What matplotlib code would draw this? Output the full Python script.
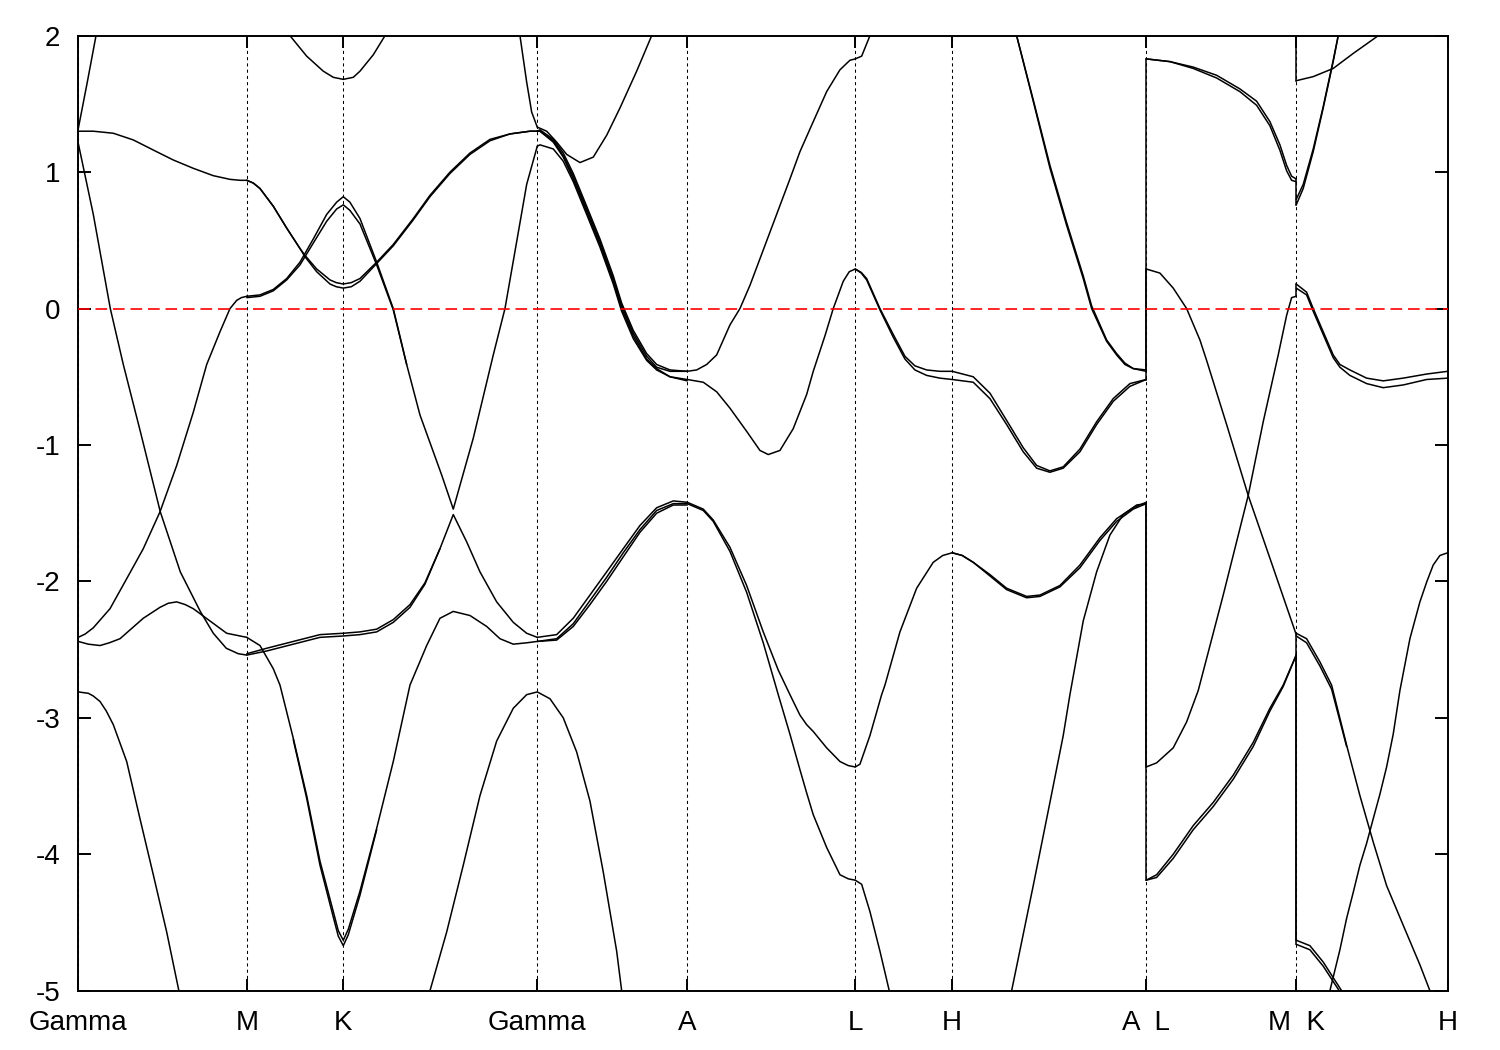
import matplotlib
matplotlib.use("Agg")
import matplotlib.pyplot as plt

plt.rcParams['font.family'] = ['Liberation Sans', 'DejaVu Sans']
plt.rcParams['axes.unicode_minus'] = False

# ---------------- k-path (arbitrary path units) ----------------
kpoints = [0, 168.5, 265, 459, 609, 777, 874, 1068, 1218, 1369.5]
klabels = ["Gamma", "M", "K", "Gamma", "A", "L", "H", "A  L", "M  K", "H"]
yticks = [-5, -4, -3, -2, -1, 0, 1, 2]

# ---------------- bands: (k, E) ----------------
# Gamma -> M
b_gm_up = ([0, 9, 17.7, 20], [1.32, 1.66, 2.0, 2.09])
b_gm_flat = ([0, 15, 35, 55, 75, 95, 115, 135, 151.7, 162, 168.5],
             [1.30, 1.30, 1.285, 1.236, 1.162, 1.089, 1.028, 0.974, 0.947, 0.94, 0.94])
b_gm_down = ([0, 15, 32, 45, 62, 82, 102, 122, 135, 148, 160, 168.5],
             [1.21, 0.69, 0.0, -0.41, -0.90, -1.49, -1.93, -2.22, -2.38, -2.49, -2.53, -2.54])
b_gm_bump = ([0, 10, 21.7, 31, 41.7, 65, 81.7, 90, 98.4, 107, 115, 131.7, 148.4, 168.5],
             [-2.44, -2.46, -2.47, -2.45, -2.42, -2.27, -2.19, -2.16, -2.15, -2.17, -2.20, -2.29, -2.38, -2.41])
b_gm_rise = ([0, 7, 15, 31.7, 48.4, 65, 81.7, 98.4, 115, 128.4, 141.7, 151.7, 158.4, 163, 168.5],
             [-2.41, -2.385, -2.34, -2.20, -1.98, -1.76, -1.49, -1.15, -0.76, -0.41, -0.17, 0.0, 0.06, 0.08, 0.09])
b_gm_deep = ([0, 10, 15, 21.7, 28, 35, 48.4, 61.7, 75, 88.4, 100, 101.7],
             [-2.81, -2.82, -2.84, -2.88, -2.95, -3.05, -3.32, -3.74, -4.15, -4.57, -4.98, -5.04])

# M -> K -> Gamma
b_mk_top = ([208, 211.7, 228.4, 245, 255, 265, 275, 281.7, 295, 306.7, 309],
            [2.03, 2.0, 1.85, 1.74, 1.695, 1.68, 1.695, 1.74, 1.86, 2.0, 2.03])
b_u1a = ([168.5, 181.7, 195, 208.4, 221.7, 235, 248.4, 258.4, 265, 271.6,
          281.7, 298.4, 315, 328.4, 341.7, 363.4, 375, 395, 415, 426.7, 438.4, 448.4, 459],
         [0.09, 0.10, 0.14, 0.22, 0.34, 0.51, 0.69, 0.78, 0.82, 0.78,
          0.66, 0.34, 0.0, -0.41, -0.78, -1.22, -1.47, -0.95, -0.34, 0.0, 0.49, 0.91, 1.19])
b_u1b = ([168.5, 181.7, 195, 208.4, 221.7, 235, 248.4, 258.4, 265, 271.6, 281.7, 298.4, 315, 328.4],
         [0.08, 0.09, 0.13, 0.21, 0.32, 0.48, 0.64, 0.73, 0.76, 0.72, 0.62, 0.32, -0.01, -0.41])
k_l1 = [168.5, 175, 181.7, 195, 208.4, 221.7, 226.7, 238.4, 251.7, 258, 265, 273,
        281.7, 298.4, 315, 335, 351.7, 371.7, 391.7, 411.7, 431.7, 451.7, 459]
e_l1a = [0.94, 0.92, 0.88, 0.75, 0.59, 0.44, 0.39, 0.29, 0.21, 0.19, 0.18, 0.19,
         0.22, 0.34, 0.47, 0.66, 0.83, 1.0, 1.14, 1.24, 1.28, 1.30, 1.30]
e_l1b = [0.94, 0.92, 0.88, 0.75, 0.59, 0.44, 0.38, 0.27, 0.18, 0.16, 0.15, 0.16,
         0.20, 0.33, 0.46, 0.65, 0.82, 0.99, 1.13, 1.23, 1.28, 1.30, 1.30]
b_kg_steep = ([439.7, 441.7, 448.4, 453.4, 459], [2.1, 2.0, 1.66, 1.44, 1.33])
b_mk_flat = ([168.5, 188.4, 215, 241.7, 265, 281.7, 298.4, 315, 331.7, 346.7, 361.7,
              375, 388.4, 401.7, 418.4, 435, 448.4, 459],
             [-2.54, -2.51, -2.46, -2.41, -2.40, -2.39, -2.37, -2.30, -2.19, -2.02, -1.76,
              -1.51, -1.71, -1.93, -2.15, -2.30, -2.38, -2.41])
b_mk_flat2 = ([168.5, 188.4, 215, 241.7, 265, 281.7, 298.4, 315, 331.7, 346.7, 361.7],
              [-2.53, -2.49, -2.44, -2.39, -2.38, -2.37, -2.35, -2.28, -2.17, -2.01, -1.76])
b_mk_steep = ([168.5, 181.7, 195, 201.7, 215, 228.4, 241.7, 255, 260, 265, 270,
               281.7, 298.4, 315, 331.7, 348.4, 361.7, 375, 391.7, 408.4, 421.7, 435, 448.4, 459],
              [-2.41, -2.47, -2.64, -2.76, -3.15, -3.57, -4.05, -4.42, -4.56, -4.63, -4.55,
               -4.27, -3.81, -3.32, -2.76, -2.47, -2.27, -2.22, -2.25, -2.33, -2.42, -2.46, -2.45, -2.44])
b_mk_steep2 = ([215, 228.4, 241.7, 255, 260, 265, 270, 281.7, 298.4],
               [-3.16, -3.59, -4.08, -4.46, -4.60, -4.67, -4.59, -4.30, -3.82])
b_kg_para = ([349.7, 351.7, 368.4, 385, 401.7, 418.4, 435, 448.4, 459,
              471.7, 485, 498.4, 511.7, 525, 538.4, 543.4, 544.7],
             [-5.08, -5.0, -4.57, -4.08, -3.57, -3.17, -2.93, -2.83, -2.81,
              -2.86, -3.0, -3.25, -3.61, -4.13, -4.71, -5.0, -5.08])

# Gamma -> A
b_ga_min = ([459, 468.4, 478.4, 488.4, 501.7, 515, 528.4, 541.7, 558.4, 573.4, 575.7],
            [1.33, 1.30, 1.22, 1.13, 1.07, 1.11, 1.27, 1.47, 1.74, 2.0, 2.05])
k_ga = [459, 461.7, 475, 485, 495, 508.4, 521.7, 535, 543.4, 555, 568.4, 578.4, 591.7, 609]
e_ga_t1 = [1.30, 1.30, 1.22, 1.11, 0.95, 0.71, 0.47, 0.20, 0.0, -0.20, -0.37, -0.44, -0.50, -0.52]
e_ga_t2 = [1.30, 1.31, 1.24, 1.14, 0.99, 0.75, 0.51, 0.24, 0.04, -0.16, -0.33, -0.41, -0.45, -0.46]
e_ga_t3 = [1.19, 1.20, 1.17, 1.08, 0.93, 0.69, 0.45, 0.18, -0.02, -0.22, -0.38, -0.45, -0.50, -0.53]
e_ga_t4 = [1.30, 1.30, 1.23, 1.12, 0.97, 0.73, 0.49, 0.22, 0.02, -0.18, -0.35, -0.43, -0.46, -0.46]
k_ga_low = [459, 478.4, 495, 511.7, 528.4, 545, 561.7, 578.4, 595, 609]
e_ga_g1 = [-2.41, -2.39, -2.27, -2.10, -1.93, -1.76, -1.59, -1.46, -1.41, -1.42]
e_ga_g2 = [-2.44, -2.42, -2.31, -2.14, -1.97, -1.79, -1.62, -1.48, -1.43, -1.43]
e_ga_g3 = [-2.44, -2.43, -2.33, -2.17, -2.00, -1.82, -1.64, -1.50, -1.44, -1.44]

# A -> L -> H
b_al_up = ([609, 618.4, 628.4, 638.4, 651.7, 661.7, 671.7, 691.7, 711.7, 721.7, 735, 748.4,
            761.7, 771.7, 777, 783.4, 791.7, 793.7],
           [-0.46, -0.45, -0.41, -0.34, -0.12, 0.0, 0.17, 0.56, 0.95, 1.15, 1.37, 1.59,
            1.75, 1.82, 1.83, 1.85, 2.0, 2.05])
b_al_min = ([609, 625, 638.4, 651.7, 668.4, 681.7, 690, 701.7, 715, 728.4, 735, 746.7, 755, 765, 771, 777,
             783, 788.4, 801.7, 815, 826.7, 836.7, 848.4, 861.7, 874],
            [-0.52, -0.54, -0.61, -0.73, -0.90, -1.04, -1.07, -1.04, -0.88, -0.63, -0.46, -0.20, 0.0, 0.20, 0.27, 0.29,
             0.265, 0.22, 0.0, -0.19, -0.35, -0.42, -0.45, -0.46, -0.46])
b_lh_low = ([777, 783, 788.4, 801.7, 815, 826.7, 836.7, 848.4, 861.7, 874],
            [0.29, 0.26, 0.21, -0.01, -0.21, -0.37, -0.45, -0.49, -0.51, -0.52])
k_al_x = [609, 625, 635, 651.7, 668.4, 685, 700, 711.7, 721.7, 728.4, 735, 748.4, 761.7, 770, 777]
e_al_x1 = [-1.42, -1.47, -1.55, -1.75, -2.03, -2.37, -2.65, -2.83, -2.98, -3.05, -3.10, -3.22, -3.32, -3.35, -3.36]
e_al_x2 = [-1.43, -1.48, -1.56, -1.78, -2.08, -2.45, -2.83, -3.12, -3.38, -3.55, -3.71, -3.95, -4.15, -4.18, -4.19]
b_lh_rise = ([777, 781.7, 791.7, 803.4, 806.7, 821.7, 838.4, 855, 864.5, 874],
             [-3.36, -3.34, -3.13, -2.83, -2.76, -2.37, -2.05, -1.86, -1.81, -1.79])
b_lh_deep = ([777, 783.4, 791.7, 801.7, 811, 812.7], [-4.19, -4.22, -4.42, -4.71, -5.0, -5.05])

# H -> A
k_ha = [874, 895, 911.7, 928.4, 945, 958.4, 971.7, 985, 1001.7, 1018.4, 1035, 1051.7, 1068]
e_ha_m1 = [-0.46, -0.50, -0.62, -0.82, -1.02, -1.15, -1.19, -1.16, -1.03, -0.83, -0.66, -0.55, -0.52]
e_ha_m2 = [-0.52, -0.54, -0.66, -0.85, -1.05, -1.17, -1.20, -1.17, -1.05, -0.85, -0.68, -0.57, -0.52]
k_ha_b = [874, 884, 895, 911.7, 928.4, 948.4, 961.7, 981.7, 1001.7, 1021.7, 1038.4, 1055, 1068]
e_ha_b1 = [-1.79, -1.81, -1.86, -1.95, -2.05, -2.11, -2.10, -2.03, -1.88, -1.68, -1.54, -1.46, -1.42]
e_ha_b2 = [-1.79, -1.81, -1.86, -1.96, -2.06, -2.12, -2.11, -2.04, -1.90, -1.70, -1.56, -1.47, -1.43]
b_ha_rise = ([931.7, 933.4, 955, 971.7, 985, 991.7, 1005, 1018.4, 1031.7, 1045, 1058.4, 1068],
             [-5.06, -5.0, -4.23, -3.62, -3.13, -2.83, -2.29, -1.93, -1.66, -1.51, -1.44, -1.43])
k_ha_long = [935.7, 938.4, 955, 971.7, 988.4, 1005, 1013.4, 1028.4, 1038.4, 1046.7, 1055, 1068]
e_ha_l1 = [2.08, 2.0, 1.52, 1.03, 0.61, 0.22, 0.0, -0.24, -0.34, -0.41, -0.44, -0.45]
e_ha_l2 = [2.08, 2.0, 1.53, 1.05, 0.63, 0.24, 0.02, -0.23, -0.33, -0.40, -0.44, -0.46]

# L -> M
k_lm_top = [1068, 1091.7, 1115, 1138.4, 1161.7, 1178.4, 1191.7, 1201.7, 1208.4, 1213.4, 1218]
e_lm_top1 = [1.83, 1.81, 1.77, 1.71, 1.61, 1.52, 1.37, 1.20, 1.05, 0.97, 0.95]
e_lm_top2 = [1.83, 1.81, 1.76, 1.69, 1.59, 1.49, 1.34, 1.16, 1.01, 0.94, 0.93]
b_lm_a = ([1068, 1081.7, 1095, 1108.4, 1121.7, 1128.4, 1148.4, 1170, 1195, 1218],
          [0.29, 0.26, 0.15, 0.0, -0.23, -0.38, -0.85, -1.37, -1.90, -2.39])
b_lm_b = ([1068, 1078.4, 1095, 1108.4, 1120, 1145, 1170, 1185, 1200, 1208.4, 1213.4, 1218],
          [-3.36, -3.33, -3.22, -3.03, -2.80, -2.10, -1.37, -0.83, -0.34, -0.05, 0.08, 0.09])
k_lm_low = [1068, 1078.4, 1095, 1115, 1135, 1155, 1175, 1191.7, 1205, 1218]
e_lm_low1 = [-4.19, -4.15, -4.0, -3.79, -3.62, -3.42, -3.18, -2.93, -2.76, -2.54]
e_lm_low2 = [-4.19, -4.17, -4.03, -3.82, -3.65, -3.45, -3.21, -2.95, -2.77, -2.54]

# K -> H
b_kh_top = ([1218, 1235, 1255, 1275, 1300, 1303.7], [1.67, 1.70, 1.76, 1.87, 2.0, 2.02])
b_kh_steep1 = ([1218, 1225, 1235, 1245, 1255, 1260, 1260.7], [0.76, 0.88, 1.15, 1.47, 1.81, 2.0, 2.03])
b_kh_steep2 = ([1218, 1225, 1235, 1245, 1255, 1260], [0.80, 0.91, 1.17, 1.48, 1.82, 2.0])
k_kh_mid = [1218, 1228.4, 1235, 1245, 1255, 1261.7, 1271.7, 1288.4, 1305, 1325, 1348.4, 1369.5]
e_kh_mid1 = [0.18, 0.12, 0.0, -0.17, -0.34, -0.41, -0.45, -0.51, -0.53, -0.51, -0.48, -0.46]
e_kh_mid2 = [0.15, 0.10, -0.02, -0.19, -0.36, -0.43, -0.49, -0.55, -0.58, -0.56, -0.52, -0.51]
b_kh_down1 = ([1218, 1228.4, 1241.7, 1253.4, 1268.4, 1281.7, 1295, 1308.4, 1325, 1341.7, 1351.7, 1353.7],
              [-2.38, -2.42, -2.59, -2.76, -3.20, -3.57, -3.91, -4.23, -4.52, -4.81, -5.0, -5.04])
b_kh_down2 = ([1218, 1228.4, 1241.7, 1253.4, 1268.4],
              [-2.40, -2.45, -2.62, -2.79, -3.21])
b_kh_bot1 = ([1218, 1231.7, 1245, 1263.4, 1265.7], [-4.63, -4.67, -4.79, -5.0, -5.04])
b_kh_bot2 = ([1218, 1231.7, 1245, 1261], [-4.66, -4.70, -4.82, -5.0])
b_kh_rise = ([1249.7, 1251.7, 1261.7, 1268.4, 1275, 1281.7, 1288.4, 1295, 1301.7, 1308.4, 1315, 1321.7,
              1331.7, 1341.7, 1348.7, 1355, 1361.7, 1369.5],
             [-5.06, -5.0, -4.70, -4.47, -4.28, -4.08, -3.92, -3.74, -3.56, -3.36, -3.12, -2.80,
              -2.42, -2.15, -2.00, -1.88, -1.81, -1.79])

# vertical jumps where the path is discontinuous (A|L and M|K)
jump_AL = [(-0.45, 1.83), (-0.52, 0.29), (-1.43, -3.36), (-1.43, -4.19)]
jump_MK = [(2.1, 1.67), (0.95, 0.76), (0.09, 0.18), (-2.39, -4.63), (-2.54, -4.66)]

bands = [
    b_gm_up, b_gm_flat, b_gm_down, b_gm_bump, b_gm_rise, b_gm_deep,
    b_mk_top, b_u1a, b_u1b, (k_l1, e_l1a), (k_l1, e_l1b), b_kg_steep, b_mk_flat, b_mk_flat2,
    b_mk_steep, b_mk_steep2, b_kg_para,
    b_ga_min, (k_ga, e_ga_t1), (k_ga, e_ga_t2), (k_ga, e_ga_t3), (k_ga, e_ga_t4),
    (k_ga_low, e_ga_g1), (k_ga_low, e_ga_g2), (k_ga_low, e_ga_g3),
    b_al_up, b_al_min, b_lh_low, (k_al_x, e_al_x1), (k_al_x, e_al_x2), b_lh_rise, b_lh_deep,
    (k_ha, e_ha_m1), (k_ha, e_ha_m2), (k_ha_b, e_ha_b1), (k_ha_b, e_ha_b2), b_ha_rise,
    (k_ha_long, e_ha_l1), (k_ha_long, e_ha_l2),
    (k_lm_top, e_lm_top1), (k_lm_top, e_lm_top2), b_lm_a, b_lm_b,
    (k_lm_low, e_lm_low1), (k_lm_low, e_lm_low2),
    b_kh_top, b_kh_steep1, b_kh_steep2, (k_kh_mid, e_kh_mid1), (k_kh_mid, e_kh_mid2),
    b_kh_down1, b_kh_down2, b_kh_bot1, b_kh_bot2, b_kh_rise,
]

# ---------------- figure ----------------
W, H = 1500, 1050
fig = plt.figure(figsize=(W / 100, H / 100), dpi=100)
ax = fig.add_axes([78.3 / W, 1 - 990.7 / H, (1447.7 - 78.3) / W, (990.7 - 35.7) / H])

for k in kpoints:
    ax.axvline(k, color='black', lw=0.75, ls=(0, (3, 3)), zorder=1)

for kk, ee in bands:
    ax.plot(kk, ee, color='black', lw=1.1, solid_joinstyle='round', solid_capstyle='round', zorder=2)

for e0, e1 in jump_AL:
    ax.plot([kpoints[7], kpoints[7]], [e0, e1], color='black', lw=1.1, zorder=2)
for e0, e1 in jump_MK:
    ax.plot([kpoints[8], kpoints[8]], [e0, e1], color='black', lw=1.1, zorder=2)

ax.axhline(0, color='#ff0000', lw=1.2, ls=(0, (7, 3.5)), zorder=3)

ax.set_xlim(kpoints[0], kpoints[-1])
ax.set_ylim(-5, 2)
ax.set_xticks(kpoints)
ax.set_xticklabels(klabels)
ax.set_yticks(yticks)
ax.set_yticklabels([str(v) for v in yticks])

for s in ax.spines.values():
    s.set_linewidth(1.4)
ax.tick_params(axis='both', direction='in', width=1.4, labelsize=20, top=True, right=True)
ax.tick_params(axis='y', length=9.6, pad=13)
ax.tick_params(axis='x', length=8.9, pad=14)

fig.savefig('out.png', dpi=100)
